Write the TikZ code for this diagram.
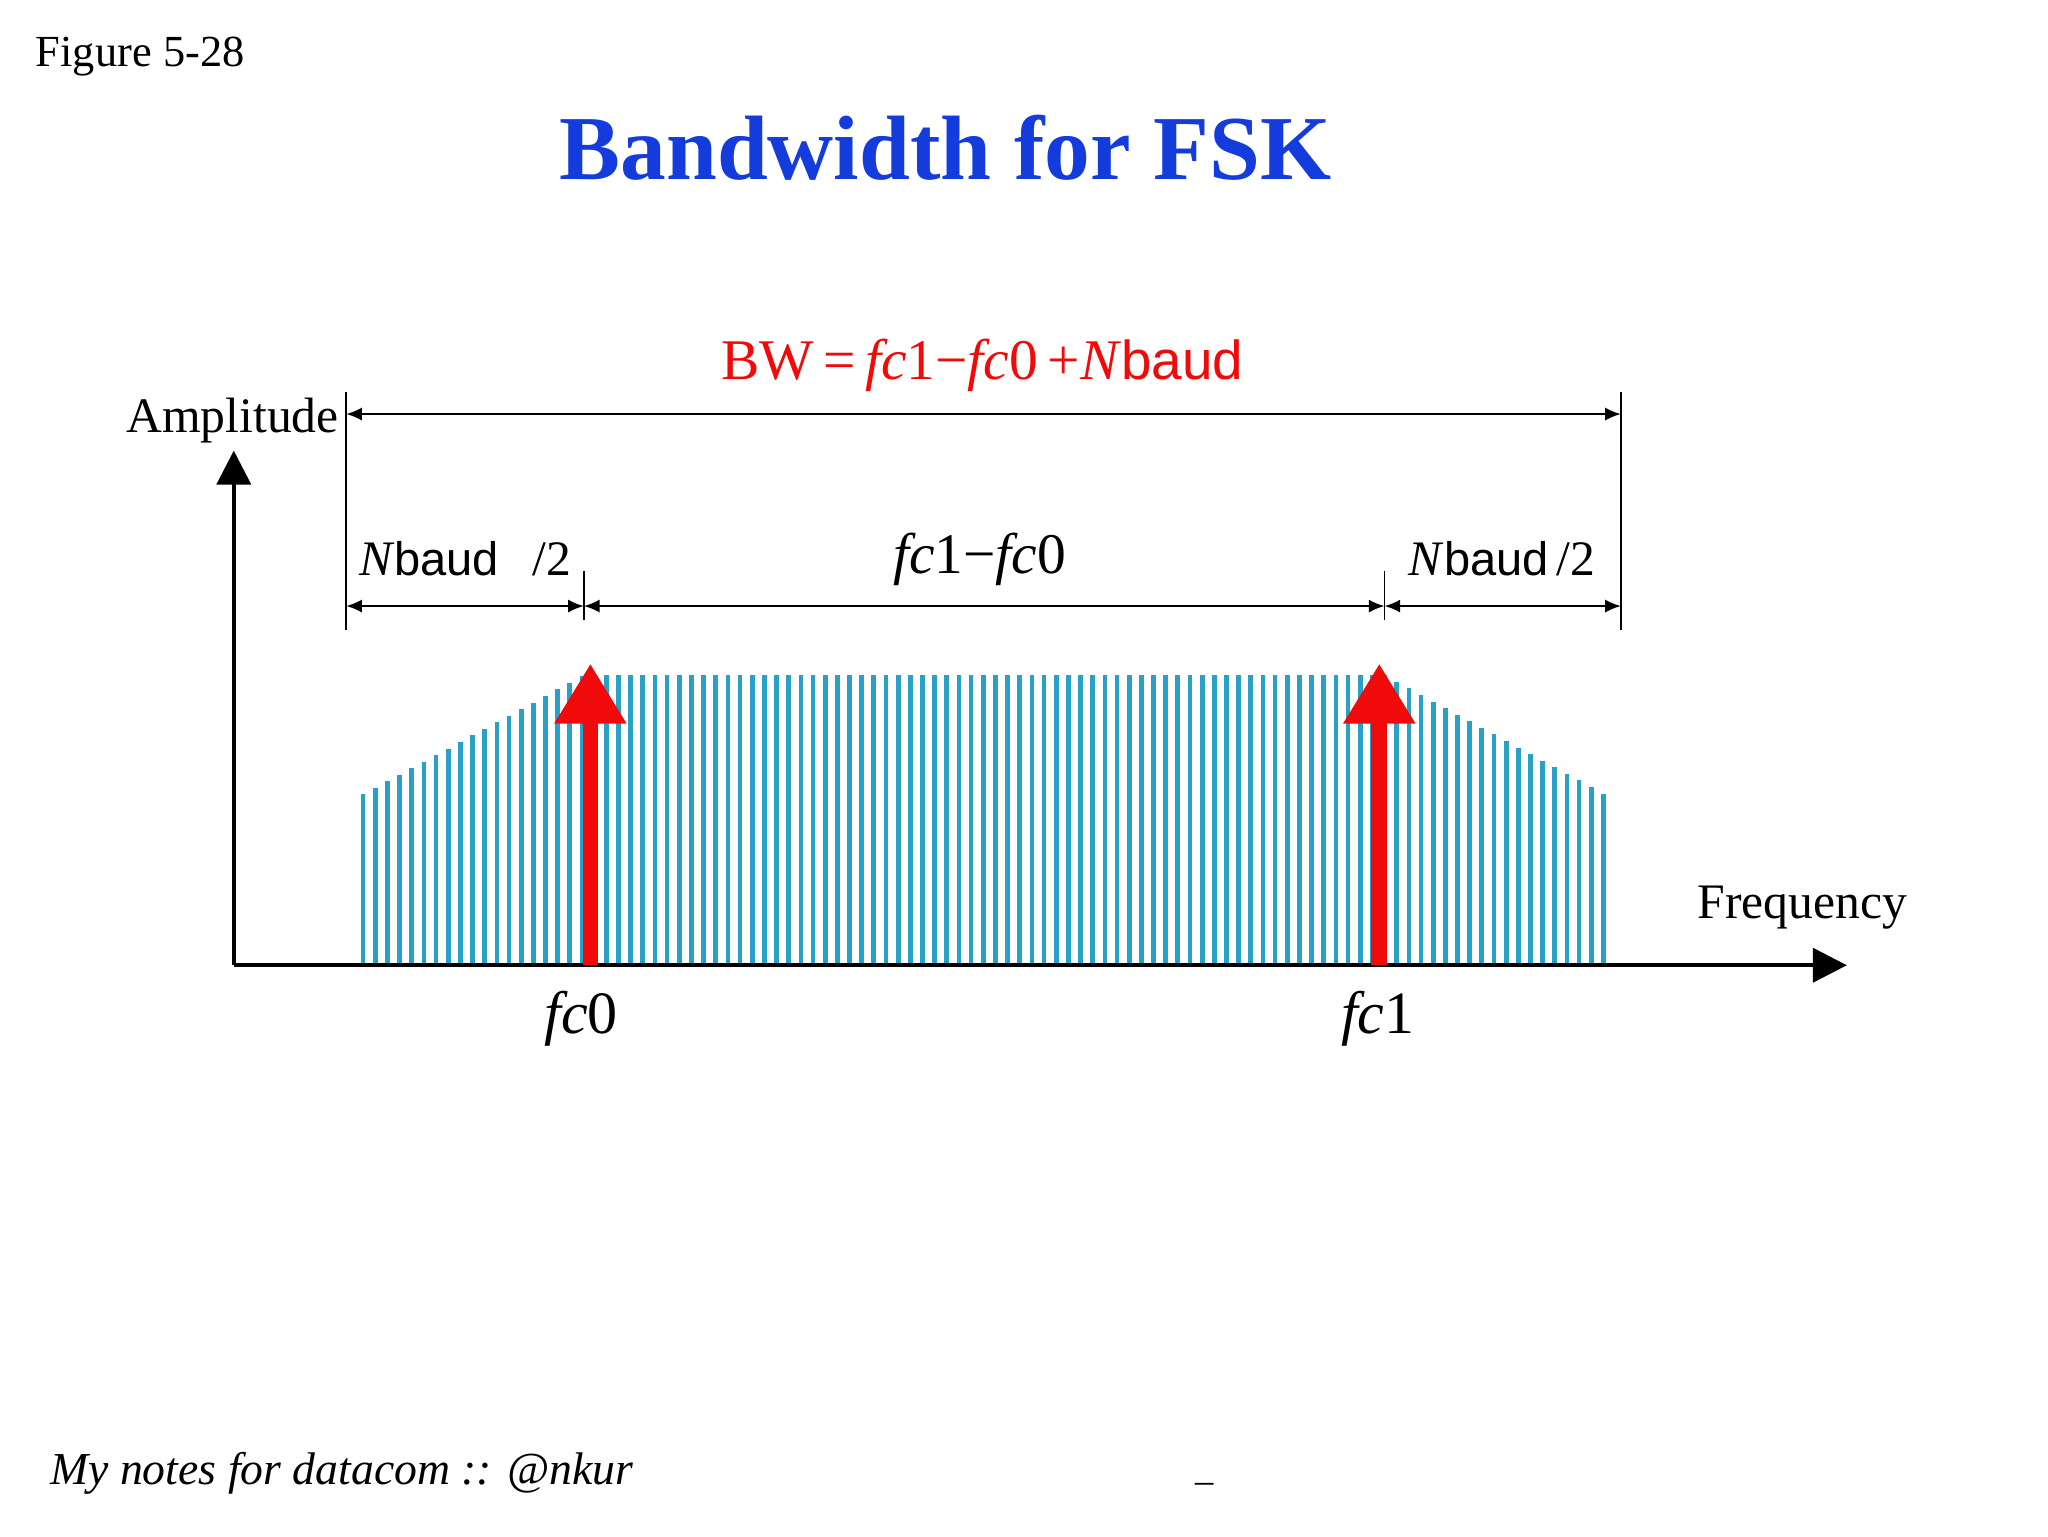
\documentclass[tikz,border=0pt]{standalone}
\usepackage{fontspec}
\setmainfont{Liberation Serif}
\setsansfont{Liberation Sans}
\usetikzlibrary{arrows.meta}
\definecolor{titleblue}{RGB}{20,60,220}
\definecolor{barcyan}{RGB}{40,160,200}
\definecolor{fskred}{RGB}{240,10,10}
\tikzset{
  dim/.style={line width=1.6pt,{Latex[length=12pt,width=10pt]}-{Latex[length=12pt,width=10pt]}},
  tickline/.style={line width=1.2pt},
  axis/.style={line width=3pt,-{Triangle[length=26pt,width=26pt]}},
  lbl/.style={font=\fontsize{38}{42}\selectfont}
}
\begin{document}
\begin{tikzpicture}[x=1pt,y=-1pt]
\useasboundingbox (0,0) rectangle (1568,1176);
\node[anchor=west,font=\fontsize{34}{38}\selectfont] (fig) at (24,43) {Figure 5-28};
\node[font=\fontsize{70}{74}\selectfont\bfseries,text=titleblue] (title) at (724,113) {Bandwidth for FSK};
% bars
\foreach \i in {0,...,102}{
  \pgfmathsetmacro{\xx}{278+\i*9.31}
  \pgfmathsetmacro{\tp}{517+0.54*max(0,447-\xx,\xx-1060)}
  \draw[barcyan,line width=3.6pt] (\xx,738) -- (\xx,\tp);
}
% axes
\coordinate (O) at (179,739);
\coordinate (Ytop) at (179,345);
\coordinate (Xend) at (1414,739);
\draw[axis] (O) -- (Ytop);
\draw[axis] (O) -- (Xend);
\node[lbl,anchor=south] (amp) at (178,343) {Amplitude};
\node[lbl] (freq) at (1380,695) {Frequency};
% ticks
\coordinate (L1) at (265,300); \coordinate (L2) at (265,482);
\coordinate (R1) at (1241,300); \coordinate (R2) at (1241,482);
\coordinate (M1) at (447,437); \coordinate (M2) at (447,475);
\coordinate (N1) at (1060,437); \coordinate (N2) at (1060,475);
\draw[tickline] (L1) -- (L2);
\draw[tickline] (R1) -- (R2);
\draw[tickline] (M1) -- (M2);
\draw[tickline] (N1) -- (N2);
\coordinate (bwL) at (265,317); \coordinate (bwR) at (1241,317);
\coordinate (a) at (265,464); \coordinate (b) at (447,464);
\coordinate (c) at (1060,464); \coordinate (d) at (1241,464);
\draw[dim] (bwL) -- (bwR);
\draw[dim] (a) -- (b);
\draw[dim] (b) -- (c);
\draw[dim] (c) -- (d);
% labels
\node[font=\fontsize{44}{48}\selectfont,text=fskred] (bw) at (752,280) {BW\,=\,\textit{fc}1−\textit{fc}0\,+\textit{N}\textsf{\fontsize{42}{46}\selectfont baud}};
\node[lbl] (nb1) at (356,428) {\textit{N}\textsf{\fontsize{36}{40}\selectfont baud}\,\,\,\,/2};
\node[font=\fontsize{44}{48}\selectfont] (diff) at (750,428) {\textit{fc}1−\textit{fc}0};
\node[lbl] (nb2) at (1150,428) {\textit{N}\textsf{\fontsize{36}{40}\selectfont baud}\,/2};
% red arrows
\coordinate (r0b) at (452,739); \coordinate (r0t) at (452,508);
\coordinate (r1b) at (1056,739); \coordinate (r1t) at (1056,508);
\draw[fskred,line width=12pt,-{Triangle[length=46pt,width=52pt]}] (r0b) -- (r0t);
\draw[fskred,line width=12pt,-{Triangle[length=46pt,width=52pt]}] (r1b) -- (r1t);
\node[font=\fontsize{46}{50}\selectfont] (f0) at (445,780) {\textit{fc}0};
\node[font=\fontsize{46}{50}\selectfont] (f1) at (1055,780) {\textit{fc}1};
% footer
\node[anchor=west,font=\fontsize{35}{38}\selectfont\itshape] (foot) at (35,1128) {My notes for datacom :: @nkur};
\node[font=\fontsize{28}{30}\selectfont] (us) at (922,1135) {\_};
\end{tikzpicture}
\end{document}
